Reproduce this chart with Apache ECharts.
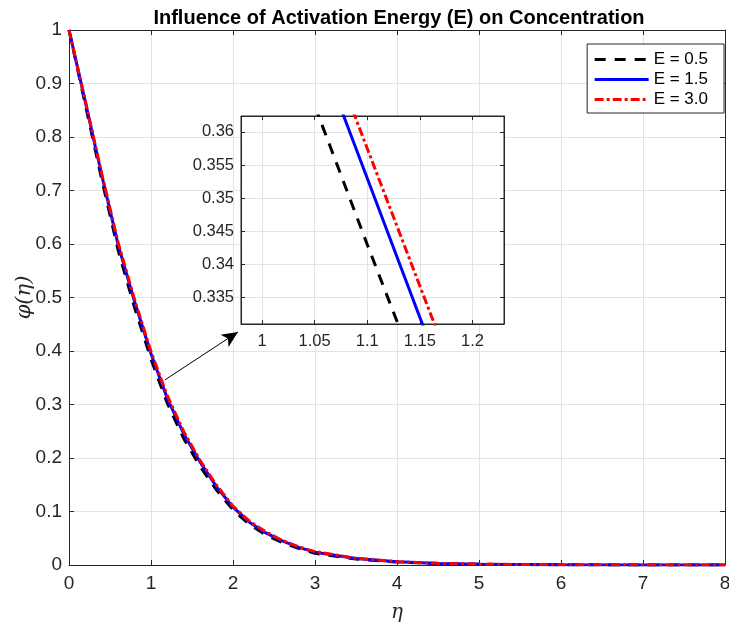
<!DOCTYPE html>
<html>
<head>
<meta charset="utf-8">
<script src="https://cdn.jsdelivr.net/npm/echarts@6/dist/echarts.min.js"></script>
<style>
  html, body { margin: 0; padding: 0; background: #fff; }
  #chart { width: 729px; height: 627px; }
</style>
</head>
<body>
<div id="chart"></div>
<script>
// --- data ---
const etaValues = [0, 0.2, 0.4, 0.6, 0.8, 1.0, 1.1, 1.2, 1.4, 1.6, 1.8, 2.0, 2.2, 2.4, 2.6, 2.8, 3.0, 3.5, 4.0, 4.5, 5.0, 6.0, 7.0, 8.0];
const phiE05 = [1.000, 0.860, 0.720, 0.588, 0.481, 0.385, 0.343, 0.302, 0.236, 0.184, 0.140, 0.103, 0.076, 0.056, 0.042, 0.031, 0.022, 0.011, 0.0055, 0.0027, 0.0013, 0.0004, 0.0001, 0.0001];
const phiE15 = [1.000, 0.865, 0.728, 0.598, 0.492, 0.395, 0.353, 0.311, 0.245, 0.192, 0.146, 0.108, 0.080, 0.060, 0.045, 0.033, 0.024, 0.012, 0.006, 0.003, 0.0015, 0.0005, 0.0002, 0.0001];
const phiE30 = [1.000, 0.867, 0.731, 0.602, 0.496, 0.399, 0.3575, 0.316, 0.249, 0.195, 0.149, 0.110, 0.082, 0.062, 0.046, 0.034, 0.025, 0.0125, 0.0062, 0.0031, 0.0016, 0.0005, 0.0002, 0.0001];
const seriesNames = ['E = 0.5', 'E = 1.5', 'E = 3.0'];

const insetXTicks = [1, 1.05, 1.1, 1.15, 1.2];
const insetYTicks = [0.335, 0.34, 0.345, 0.35, 0.355, 0.36];
const insetXRange = [0.98, 1.23];
const insetYRange = [0.331, 0.3624];
const arrowFrom = [1.17, 0.346];
const arrowTo = [2.06, 0.4355];

const AXIS_COLOR = '#262626';
const GRID_COLOR = '#e3e3e3';
const FONT = '"Liberation Sans", Arial, sans-serif';
const SERIF = '"DejaVu Serif", "Liberation Serif", serif';

const toPairs = (ys) => etaValues.map((x, i) => [x, ys[i]]);

// line styles per series
const styles = [
  { color: '#000000', type: [11, 9] },
  { color: '#0000ff', type: 'solid' },
  { color: '#ff0000', type: [9, 3, 3, 3] },
];
const curves = [phiE05, phiE15, phiE30];

function boxAxis(extra) {
  return Object.assign({
    axisLine: { show: true, onZero: false, lineStyle: { color: AXIS_COLOR, width: 1 } },
    axisTick: { show: true, inside: true, length: 5, lineStyle: { color: AXIS_COLOR } },
    axisLabel: { show: false },
    splitLine: { show: false },
  }, extra);
}

const chart = echarts.init(document.getElementById('chart'));

const mainSeries = curves.map((ys, i) => ({
  name: seriesNames[i],
  type: 'line',
  xAxisIndex: 0,
  yAxisIndex: 0,
  data: toPairs(ys),
  symbol: 'none',
  animation: false,
  z: 2 + i,
  lineStyle: { color: styles[i].color, type: styles[i].type, width: 3 },
  itemStyle: { color: styles[i].color },
}));

// arrow pointing at the zoom box
mainSeries[0].markLine = {
  silent: true,
  animation: false,
  symbol: ['none', 'arrow'],
  symbolSize: [11, 16],
  label: { show: false },
  lineStyle: { color: '#000', type: 'solid', width: 1 },
  data: [[{ coord: arrowFrom }, { coord: arrowTo }]],
};

const insetSeries = curves.map((ys, i) => ({
  name: seriesNames[i] + ' inset',
  type: 'line',
  xAxisIndex: 2,
  yAxisIndex: 2,
  data: toPairs(ys),
  symbol: 'none',
  clip: true,
  animation: false,
  z: 10 + i,
  lineStyle: { color: styles[i].color, type: styles[i].type, width: 3 },
}));

const option = {
  backgroundColor: '#fff',
  animation: false,
  title: {
    text: 'Influence of Activation Energy (E) on Concentration',
    left: 394,
    textAlign: 'center',
    top: 3,
    textStyle: { fontFamily: FONT, fontSize: 20, fontWeight: 'bold', color: '#000' },
  },
  legend: {
    data: seriesNames,
    orient: 'vertical',
    right: 5,
    top: 44,
    itemWidth: 54,
    itemHeight: 14,
    itemGap: 3,
    padding: [7, 16, 5, 6],
    borderColor: AXIS_COLOR,
    borderWidth: 1,
    backgroundColor: '#fff',
    itemStyle: { opacity: 0 },
    lineStyle: { width: 3 },
    z: 20,
    textStyle: { fontFamily: FONT, fontSize: 17, color: '#000' },
  },
  grid: [
    { left: 69, right: 4, top: 30, bottom: 62, z: 0, outerBoundsMode: 'none', containLabel: false },
    { left: 241, top: 116, width: 263, height: 208, show: true, backgroundColor: '#fff', borderColor: AXIS_COLOR, borderWidth: 1, z: 5, outerBoundsMode: 'none', containLabel: false },
  ],
  xAxis: [
    {
      type: 'value', gridIndex: 0, min: 0, max: 8, interval: 1,
      name: 'η', nameLocation: 'middle', nameGap: 38, nameMoveOverlap: false,
      nameTextStyle: { fontFamily: SERIF, fontStyle: 'italic', fontSize: 20, color: AXIS_COLOR },
      axisLine: { onZero: false, lineStyle: { color: AXIS_COLOR, width: 1 } },
      axisTick: { inside: true, length: 5, lineStyle: { color: AXIS_COLOR } },
      axisLabel: { fontFamily: FONT, fontSize: 19, color: AXIS_COLOR, margin: 9 },
      splitLine: { show: true, lineStyle: { color: GRID_COLOR, width: 1 } },
    },
    boxAxis({ type: 'value', gridIndex: 0, position: 'top', min: 0, max: 8, interval: 1 }),
    {
      type: 'value', gridIndex: 1, min: insetXRange[0], max: insetXRange[1], z: 6,
      axisLine: { onZero: false, lineStyle: { color: AXIS_COLOR, width: 1 } },
      axisTick: { inside: true, length: 4, lineStyle: { color: AXIS_COLOR }, customValues: insetXTicks },
      axisLabel: { fontFamily: FONT, fontSize: 16.5, color: AXIS_COLOR, margin: 9, customValues: insetXTicks },
      splitLine: { show: true, lineStyle: { color: GRID_COLOR, width: 1 } },
    },
    boxAxis({ type: 'value', gridIndex: 1, position: 'top', min: insetXRange[0], max: insetXRange[1], z: 6,
      axisTick: { show: true, inside: true, length: 4, lineStyle: { color: AXIS_COLOR }, customValues: insetXTicks } }),
  ],
  yAxis: [
    {
      type: 'value', gridIndex: 0, min: 0, max: 1, interval: 0.1,
      name: 'φ(η)', nameLocation: 'middle', nameGap: 34, nameRotate: 90, nameMoveOverlap: false,
      nameTextStyle: { fontFamily: SERIF, fontStyle: 'italic', fontSize: 21, color: AXIS_COLOR },
      axisLine: { show: true, onZero: false, lineStyle: { color: AXIS_COLOR, width: 1 } },
      axisTick: { show: true, inside: true, length: 5, lineStyle: { color: AXIS_COLOR } },
      axisLabel: { fontFamily: FONT, fontSize: 19, color: AXIS_COLOR, margin: 7,
        formatter: (v) => String(Math.round(v * 10) / 10) },
      splitLine: { show: true, lineStyle: { color: GRID_COLOR, width: 1 } },
    },
    boxAxis({ type: 'value', gridIndex: 0, position: 'right', min: 0, max: 1, interval: 0.1 }),
    {
      type: 'value', gridIndex: 1, min: insetYRange[0], max: insetYRange[1], z: 6,
      axisLine: { show: true, onZero: false, lineStyle: { color: AXIS_COLOR, width: 1 } },
      axisTick: { show: true, inside: true, length: 4, lineStyle: { color: AXIS_COLOR }, customValues: insetYTicks },
      axisLabel: { fontFamily: FONT, fontSize: 16.5, color: AXIS_COLOR, margin: 7, customValues: insetYTicks,
        formatter: (v) => String(Math.round(v * 1000) / 1000) },
      splitLine: { show: true, lineStyle: { color: GRID_COLOR, width: 1 } },
    },
    boxAxis({ type: 'value', gridIndex: 1, position: 'right', min: insetYRange[0], max: insetYRange[1], z: 6,
      axisTick: { show: true, inside: true, length: 4, lineStyle: { color: AXIS_COLOR }, customValues: insetYTicks } }),
  ],
  series: mainSeries.concat(insetSeries),
};

chart.setOption(option);
</script>
</body>
</html>
